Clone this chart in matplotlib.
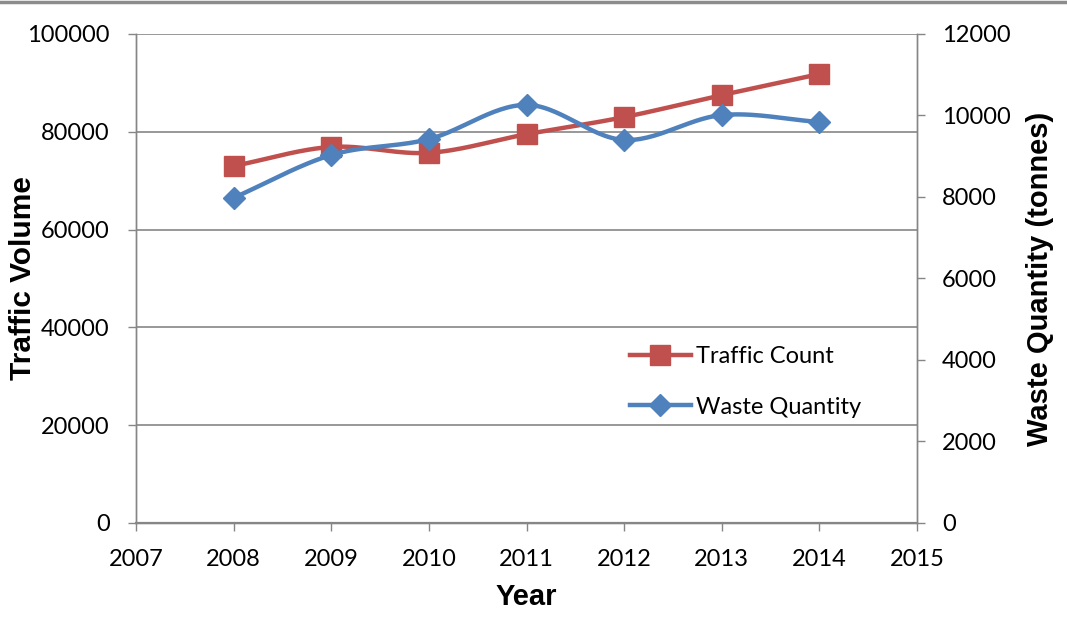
import numpy as np
import matplotlib
matplotlib.use("Agg")
import matplotlib.pyplot as plt
from matplotlib.lines import Line2D

years = [2008, 2009, 2010, 2011, 2012, 2013, 2014]
traffic_count = [73000, 76900, 75700, 79500, 83000, 87500, 91800]
waste_quantity = [7980, 9030, 9420, 10260, 9400, 10010, 9840]

left_ticks = [0, 20000, 40000, 60000, 80000, 100000]
right_ticks = [0, 2000, 4000, 6000, 8000, 10000, 12000]
x_ticks = [2007, 2008, 2009, 2010, 2011, 2012, 2013, 2014, 2015]

RED = "#C0504D"
BLUE = "#4F81BD"
GRID = "#868686"

def smooth(xs, ys, n=30):
    xs = np.asarray(xs, float)
    ys = np.asarray(ys, float)
    px = np.concatenate([[2 * xs[0] - xs[1]], xs, [2 * xs[-1] - xs[-2]]])
    py = np.concatenate([[2 * ys[0] - ys[1]], ys, [2 * ys[-1] - ys[-2]]])
    ox, oy = [], []
    for i in range(1, len(px) - 2):
        t = np.linspace(0, 1, n, endpoint=False)
        for arr, out in ((px, ox), (py, oy)):
            p0, p1, p2, p3 = arr[i - 1], arr[i], arr[i + 1], arr[i + 2]
            out.extend(0.5 * ((2 * p1) + (-p0 + p2) * t +
                              (2 * p0 - 5 * p1 + 4 * p2 - p3) * t ** 2 +
                              (-p0 + 3 * p1 - 3 * p2 + p3) * t ** 3))
    ox.append(xs[-1]); oy.append(ys[-1])
    return np.array(ox), np.array(oy)

plt.rcParams['font.family'] = ['Lato', 'DejaVu Sans']
BOLD = ['Liberation Sans', 'DejaVu Sans']

fig = plt.figure(figsize=(10.67, 6.27), dpi=100)
ax = fig.add_axes([0.1275, 0.1659, 0.7319, 0.7799])
ax2 = ax.twinx()

# top border line of the figure
fig.add_artist(Line2D([0, 1], [0.997, 0.997], color="#8c8c8c", lw=2.5, transform=fig.transFigure))

ax.set_xlim(2007, 2015)
ax.set_ylim(0, 100000)
ax2.set_ylim(0, 12000)

ax.set_yticks(left_ticks)
ax.set_yticklabels([str(v) for v in left_ticks])
ax2.set_yticks(right_ticks)
ax2.set_yticklabels([str(v) for v in right_ticks])
ax.set_xticks(x_ticks)
ax.set_xticklabels([str(v) for v in x_ticks])

for a in (ax, ax2):
    for s in a.spines.values():
        s.set_color(GRID)
        s.set_linewidth(1.0)
    a.spines['top'].set_visible(False)
ax.spines['bottom'].set_linewidth(1.6)
ax.yaxis.grid(True, color=GRID, lw=1.2)
ax.set_axisbelow(True)

ax.tick_params(axis='y', direction='out', length=6, width=1, color=GRID,
               labelsize=17, pad=13)
ax.tick_params(axis='x', direction='out', length=6, width=1, color=GRID,
               labelsize=17, pad=13)
ax2.tick_params(axis='y', direction='out', length=6, width=1, color=GRID,
                labelsize=17, pad=12)

# Traffic (left)
sx, sy = smooth(years, traffic_count)
ax.plot(sx, sy, color=RED, lw=3.2, zorder=3, solid_capstyle='round')
ax.plot(years, traffic_count, ls='none', marker='s', ms=14, color=RED, zorder=4)

# Waste (right)
wx, wy = smooth(years, waste_quantity)
ax2.plot(wx, wy, color=BLUE, lw=3.2, zorder=3, solid_capstyle='round')
ax2.plot(years, waste_quantity, ls='none', marker='D', ms=11, color=BLUE, zorder=4)

ax.set_xlabel("Year", fontsize=21, fontweight='bold', family=BOLD, labelpad=9)
ax.set_ylabel("Traffic Volume", fontsize=21.5, fontweight='bold', family=BOLD, labelpad=-7)
ax2.set_ylabel("Waste Quantity (tonnes)", fontsize=21, fontweight='bold', family=BOLD, labelpad=11)

handles = [Line2D([], [], color=RED, lw=3.2, marker='s', ms=14),
           Line2D([], [], color=BLUE, lw=3.2, marker='D', ms=11)]
leg = ax.legend(handles, ["Traffic Count", "Waste Quantity"], loc='upper left',
                bbox_to_anchor=(0.605, 0.405), frameon=False, fontsize=17,
                handlelength=2.6, handletextpad=0.2, labelspacing=1.25)

fig.savefig("out.png", dpi=100)
